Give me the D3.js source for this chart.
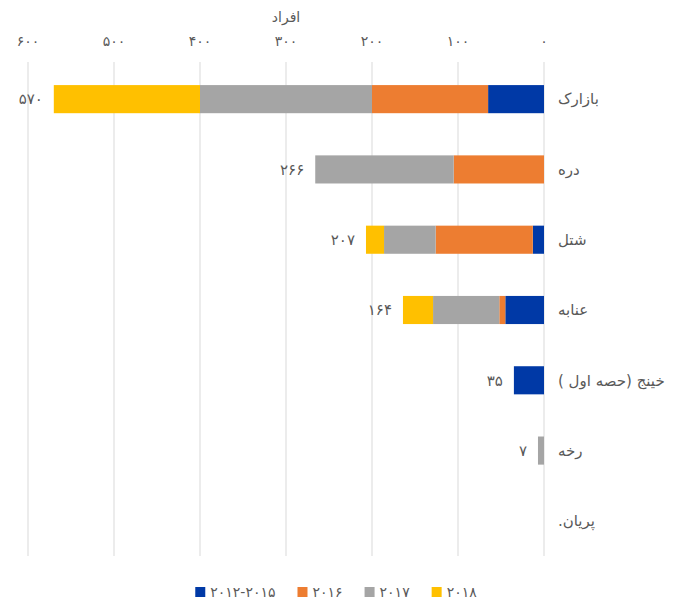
<!DOCTYPE html>
<html lang="fa">
<head>
  <meta charset="UTF-8">
  <title>افراد</title>
  <script src="https://d3js.org/d3.v7.min.js"></script>
  <style>
    body {
      margin: 0;
      background: #fff;
      font-family: 'DejaVu Sans', sans-serif;
    }
    svg { display: block; }
  </style>
</head>
<body>
<svg width="674" height="602"></svg>
<script>
const categories = ["بازارک", "دره", "شتل", "عنابه", "خینج (حصه اول )", "رخه", "پریان."];
const seriesNames = ["۲۰۱۲-۲۰۱۵", "۲۰۱۶", "۲۰۱۷", "۲۰۱۸"];
const v2012_2015 = [65, 0, 13, 45, 35, 0, 0];
const v2016 = [135, 105, 113, 7, 0, 0, 0];
const v2017 = [200, 161, 60, 77, 0, 7, 0];
const v2018 = [170, 0, 21, 35, 0, 0, 0];
const xTicks = [0, 100, 200, 300, 400, 500, 600];
const colors = ["#0039A6", "#ED7D31", "#A5A5A5", "#FFC000"];

const fa = n => String(n).replace(/\d/g, d => "۰۱۲۳۴۵۶۷۸۹"[d]);

const svg = d3.select("svg");

const x = d3.scaleLinear().domain([0, 600]).range([544, 28]);
const y = d3.scaleBand().domain(categories).range([64, 556])
  .paddingInner(0.6).paddingOuter(0.3);

// rows for stacking
const rows = categories.map((c, i) => ({
  cat: c, s0: v2012_2015[i], s1: v2016[i], s2: v2017[i], s3: v2018[i]
}));
const total = r => r.s0 + r.s1 + r.s2 + r.s3;
const stacked = d3.stack().keys(["s0", "s1", "s2", "s3"])(rows);

// gridlines
svg.append("g")
  .selectAll("line")
  .data(xTicks)
  .join("line")
  .attr("x1", d => x(d)).attr("x2", d => x(d))
  .attr("y1", 62).attr("y2", 556)
  .attr("stroke", "#d9d9d9")
  .attr("stroke-width", 1);

// top axis labels
svg.append("g")
  .selectAll("text")
  .data(xTicks)
  .join("text")
  .attr("x", d => x(d))
  .attr("y", 46)
  .attr("text-anchor", "middle")
  .attr("font-size", "14px")
  .attr("fill", "#595959")
  .text(d => fa(d));

svg.append("text")
  .attr("x", x(300))
  .attr("y", 22)
  .attr("text-anchor", "middle")
  .attr("font-size", "14px")
  .attr("fill", "#595959")
  .text("افراد");

// bars
svg.append("g")
  .selectAll("g")
  .data(stacked)
  .join("g")
  .attr("fill", (d, i) => colors[i])
  .selectAll("rect")
  .data(d => d.filter(p => p[1] - p[0] > 0))
  .join("rect")
  .attr("x", d => x(d[1]))
  .attr("width", d => x(d[0]) - x(d[1]))
  .attr("y", d => y(d.data.cat))
  .attr("height", y.bandwidth());

// totals
svg.append("g")
  .selectAll("text")
  .data(rows.filter(r => total(r) > 0))
  .join("text")
  .attr("x", d => x(total(d)) - 11)
  .attr("y", d => y(d.cat) + y.bandwidth() / 2)
  .attr("dy", "0.35em")
  .attr("text-anchor", "end")
  .attr("font-size", "15px")
  .attr("fill", "#595959")
  .text(d => fa(total(d)));

// category labels
svg.append("g")
  .selectAll("text")
  .data(categories)
  .join("text")
  .attr("x", 558)
  .attr("y", d => y(d) + y.bandwidth() / 2)
  .attr("dy", "0.35em")
  .attr("direction", "rtl")
  .attr("text-anchor", "end")
  .attr("font-size", "15px")
  .attr("fill", "#595959")
  .text(d => d);

// legend
const legend = svg.append("g");
let lx = 0;
seriesNames.forEach((name, i) => {
  const item = legend.append("g").attr("transform", `translate(${lx},0)`);
  item.append("rect")
    .attr("x", 0).attr("y", 587)
    .attr("width", 10).attr("height", 10)
    .attr("fill", colors[i]);
  const t = item.append("text")
    .attr("x", 15).attr("y", 597)
    .attr("font-size", "14px")
    .attr("fill", "#595959")
    .attr("direction", "ltr")
    .attr("unicode-bidi", "bidi-override")
    .text(name);
  lx += 15 + t.node().getComputedTextLength() + 22;
});
const lw = lx - 22;
legend.attr("transform", `translate(${336 - lw / 2},0)`);
</script>
</body>
</html>
